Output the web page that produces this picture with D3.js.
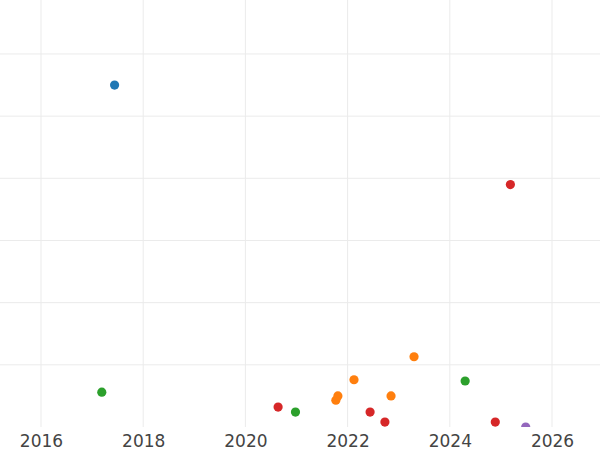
<!DOCTYPE html>
<html>
<head>
<meta charset="utf-8">
<script src="https://cdn.jsdelivr.net/npm/d3@7"></script>
<style>
  html, body { margin: 0; padding: 0; background: #fff; }
  svg { display: block; }
</style>
</head>
<body>
<svg id="chart" width="600" height="450"></svg>
<script>
// ---- data ----
const xTicks = [2016, 2018, 2020, 2022, 2024, 2026];
const yGrid = [1, 2, 3, 4, 5, 6];

const seriesNames = ["blue", "orange", "green", "red", "purple"];
const seriesColors = ["#1f77b4", "#ff7f0e", "#2ca02c", "#d62728", "#9467bd"];

const blueYears = [2017.44];
const blueValues = [5.50];

const orangeYears = [2021.77, 2021.81, 2022.125, 2022.85, 2023.30];
const orangeValues = [0.43, 0.50, 0.76, 0.50, 1.13];

const greenYears = [2017.19, 2020.98, 2024.30];
const greenValues = [0.56, 0.24, 0.74];

const redYears = [2020.64, 2022.44, 2022.73, 2024.89, 2025.185];
const redValues = [0.32, 0.24, 0.08, 0.08, 3.90];

const purpleYears = [2025.485];
const purpleValues = [0.0];

const allYears = [blueYears, orangeYears, greenYears, redYears, purpleYears];
const allValues = [blueValues, orangeValues, greenValues, redValues, purpleValues];

// ---- layout ----
const W = 600, plotH = 427;
const svg = d3.select("#chart");

const x = d3.scaleLinear().domain([2015.198, 2026.939]).range([0, W]);
const y = d3.scaleLinear().domain([0, 6.868]).range([plotH, 0]);

svg.append("defs").append("clipPath").attr("id", "plotclip")
  .append("rect").attr("x", 0).attr("y", 0).attr("width", W).attr("height", plotH);

const grid = svg.append("g");
grid.selectAll("line.v").data(xTicks).join("line")
  .attr("x1", d => x(d)).attr("x2", d => x(d))
  .attr("y1", 0).attr("y2", plotH)
  .attr("stroke", "#ebebeb").attr("stroke-width", 1);
grid.selectAll("line.h").data(yGrid).join("line")
  .attr("x1", 0).attr("x2", W)
  .attr("y1", d => y(d)).attr("y2", d => y(d))
  .attr("stroke", "#ebebeb").attr("stroke-width", 1);

// x axis labels
const xAxis = d3.axisBottom(x).tickValues(xTicks).tickFormat(d3.format("d")).tickSize(0).tickPadding(7.5);
const ax = svg.append("g").attr("transform", `translate(0,${plotH})`).call(xAxis);
ax.select(".domain").remove();
ax.selectAll("text")
  .attr("font-family", "DejaVu Sans, sans-serif")
  .attr("font-size", 17)
  .attr("fill", "#444");

// points
const pts = [];
seriesNames.forEach((s, i) => {
  allYears[i].forEach((yr, j) => pts.push({ s: i, yr, v: allValues[i][j] }));
});

svg.append("g").attr("clip-path", "url(#plotclip)")
  .selectAll("circle").data(pts).join("circle")
  .attr("cx", d => x(d.yr))
  .attr("cy", d => y(d.v))
  .attr("r", 4.6)
  .attr("fill", d => seriesColors[d.s]);
</script>
</body>
</html>
